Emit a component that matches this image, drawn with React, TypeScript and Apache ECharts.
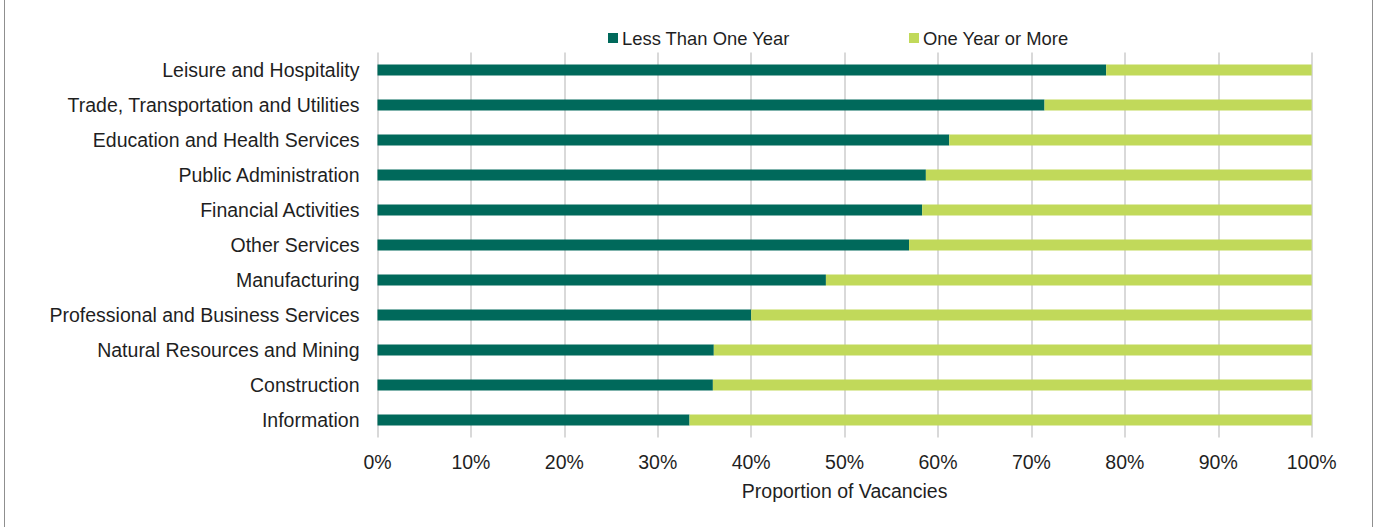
import React, { useEffect, useRef } from "react";
import * as echarts from "echarts";

const categories = [
  "Leisure and Hospitality",
  "Trade, Transportation and Utilities",
  "Education and Health Services",
  "Public Administration",
  "Financial Activities",
  "Other Services",
  "Manufacturing",
  "Professional and Business Services",
  "Natural Resources and Mining",
  "Construction",
  "Information",
];

const lessThanOneYear = [0.78, 0.714, 0.612, 0.587, 0.583, 0.569, 0.48, 0.4, 0.36, 0.359, 0.334];
const oneYearOrMore = lessThanOneYear.map((v) => +(1 - v).toFixed(3));

const seriesNames = ["Less Than One Year", "One Year or More"];
const xAxisTitle = "Proportion of Vacancies";

const FONT = "'Liberation Sans', Arial, sans-serif";
const TEXT = "#1f1f1f";
const FS = 19.5;

export default function App() {
  const ref = useRef<HTMLDivElement>(null);
  useEffect(() => {
    if (!ref.current) return;
    const chart = echarts.init(ref.current, null, { renderer: "svg" });
    chart.setOption({
      animation: false,
      backgroundColor: "#ffffff",
      textStyle: { fontFamily: FONT, color: TEXT },
      legend: {
        left: 603,
        top: 24,
        itemWidth: 10,
        itemHeight: 10,
        itemGap: 119,
        icon: "rect",
        textStyle: { fontSize: 18.4, color: TEXT, fontFamily: FONT, padding: [0, 0, 0, -1] },
        data: seriesNames,
      },
      grid: { left: 377.5, right: 64.3, top: 52.5, height: 385, containLabel: false },
      xAxis: {
        type: "value",
        min: 0,
        max: 1,
        interval: 0.1,
        name: xAxisTitle,
        nameLocation: "middle",
        nameGap: 43,
        nameTextStyle: { fontSize: FS, color: TEXT, fontFamily: FONT },
        axisLine: { show: false },
        axisTick: { show: false },
        axisLabel: {
          fontSize: FS,
          color: TEXT,
          fontFamily: FONT,
          margin: 14,
          formatter: (v: number) => Math.round(v * 100) + "%",
        },
        splitLine: { show: true, lineStyle: { color: "#d9d9d9", width: 2 } },
      },
      yAxis: {
        type: "category",
        inverse: true,
        data: categories,
        axisLine: { show: false },
        axisTick: { show: false },
        axisLabel: { fontSize: FS, color: TEXT, fontFamily: FONT, margin: 18 },
      },
      series: [
        {
          name: seriesNames[0],
          type: "bar",
          stack: "total",
          barWidth: 11,
          itemStyle: { color: "#00695b" },
          data: lessThanOneYear,
        },
        {
          name: seriesNames[1],
          type: "bar",
          stack: "total",
          barWidth: 11,
          itemStyle: { color: "#c1d95a" },
          data: oneYearOrMore,
        },
      ],
    });
    return () => chart.dispose();
  }, []);
  return (
    <div style={{ position: "fixed", left: 0, top: 0, width: 1376, height: 527, background: "#fff" }}>
      <div ref={ref} style={{ position: "absolute", left: 0, top: 0, width: 1376, height: 527 }} />
      <div
        style={{
          position: "absolute",
          left: 4,
          top: 0,
          width: 1367,
          height: 527,
          borderLeft: "1px solid #8f8f8f",
          borderRight: "1px solid #8f8f8f",
          pointerEvents: "none",
        }}
      />
    </div>
  );
}
